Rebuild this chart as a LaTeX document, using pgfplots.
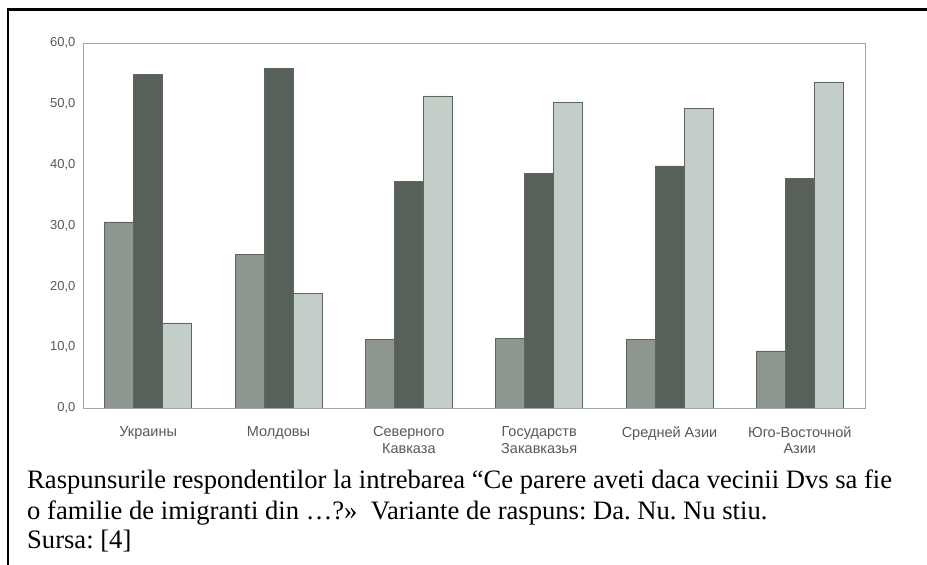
\documentclass[border=0pt]{standalone}
\usepackage{fontspec}
\setmainfont{Liberation Serif}
\newfontfamily\arial{Liberation Sans}
\usepackage{pgfplots}
\pgfplotsset{compat=1.18}
\definecolor{cgray}{HTML}{8E9690}
\definecolor{cdark}{HTML}{57615A}
\definecolor{clight}{HTML}{C4CEC9}
\definecolor{cedge}{HTML}{5E655F}
\definecolor{ctext}{HTML}{555A56}
\frenchspacing
\begin{document}
\begin{tikzpicture}[x=1pt,y=1pt]
\useasboundingbox (0,0) rectangle (927,565);
\draw[line width=2.2pt,black] (8,0) -- (8,555.5) -- (927,555.5);
\begin{axis}[
  at={(83pt,157pt)}, anchor=south west,
  scale only axis, width=782pt, height=365pt,
  xmin=-0.5, xmax=5.5, ymin=0, ymax=60,
  ybar=0pt, bar width=29pt,
  axis line style={draw=gray!70, line width=0.8pt},
  xtick={0,1,2,3,4,5},
  xticklabels={Украины, Молдовы, {Северного\\Кавказа}, {Государств\\Закавказья}, Средней Азии, {Юго-Восточной\\Азии}},
  xticklabel style={font=\arial\fontsize{14.5}{16.5}\selectfont, text=ctext, align=center, yshift=-15pt},
  ytick={0,10,20,30,40,50,60},
  yticklabels={{0,0},{10,0},{20,0},{30,0},{40,0},{50,0},{60,0}},
  yticklabel style={font=\arial\fontsize{13}{15}\selectfont, text=ctext, xshift=-4pt},
  major tick length=0pt,
  tick style={draw=none},
]
\addplot[fill=cgray, draw=cedge, line width=0.6pt] coordinates {(0,30.6) (1,25.2) (2,11.3) (3,11.5) (4,11.3) (5,9.4)};
\addplot[fill=cdark, draw=cedge, line width=0.6pt] coordinates {(0,54.9) (1,55.8) (2,37.3) (3,38.5) (4,39.8) (5,37.8)};
\addplot[fill=clight, draw=cedge, line width=0.6pt] coordinates {(0,14.0) (1,18.8) (2,51.3) (3,50.2) (4,49.3) (5,53.6)};
\end{axis}
\node[anchor=base west, inner sep=0pt, font=\fontsize{26.6}{30}\selectfont] at (27,76) {Raspunsurile respondentilor la intrebarea “Ce parere aveti daca vecinii Dvs sa fie};
\node[anchor=base west, inner sep=0pt, font=\fontsize{26.6}{30}\selectfont] at (27,45) {o familie de imigranti din …?»\ \ Variante de raspuns: Da. Nu. Nu stiu.};
\node[anchor=base west, inner sep=0pt, font=\fontsize{26.6}{30}\selectfont] at (27,16) {Sursa: [4]};
\end{tikzpicture}
\end{document}
